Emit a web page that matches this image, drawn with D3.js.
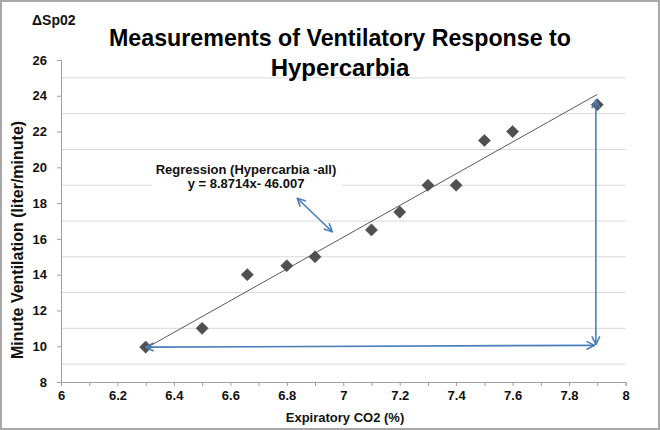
<!DOCTYPE html>
<html><head><meta charset="utf-8">
<script src="https://cdn.jsdelivr.net/npm/d3@7"></script>
<style>
html,body{margin:0;padding:0;background:#fff;}
svg{display:block;font-family:"Liberation Sans",Arial,sans-serif;}
</style></head>
<body>
<script>
// ---- data ----
const co2 = [6.3, 6.5, 6.66, 6.8, 6.9, 7.1, 7.2, 7.3, 7.4, 7.5, 7.6, 7.9];
const ventilation = [9.95, 11.0, 14.0, 14.5, 15.0, 16.5, 17.5, 19.0, 19.0, 21.5, 22.0, 23.5];
const xTicks = [6, 6.2, 6.4, 6.6, 6.8, 7, 7.2, 7.4, 7.6, 7.8, 8];
const yTicks = [8, 10, 12, 14, 16, 18, 20, 22, 24, 26];
const yGrid = [9, 11, 13, 15, 17, 19, 21, 23, 25];
const regSlope = 8.8714, regIntercept = -46.007;
const regRange = [6.3, 7.9];
const titleLines = ["Measurements of Ventilatory Response to", "Hypercarbia"];
const regLabel = ["Regression (Hypercarbia -all)", "y = 8.8714x- 46.007"];
// annotation arrows (data coords)
const arrowH = [[6.3, 9.95], [7.89, 10.05]];
const arrowV = [[7.895, 10.1], [7.895, 23.75]];
const arrowSmall = [[6.837, 18.27], [6.961, 16.40]];

const W = 660, H = 430;
const svg = d3.select("body").append("svg").attr("width", W).attr("height", H);
svg.append("rect").attr("x",1).attr("y",1).attr("width",W-2).attr("height",H-2)
  .attr("fill","#fff").attr("stroke","#a8a8a8").attr("stroke-width",2);

const x = d3.scaleLinear().domain([6, 8]).range([61, 625.5]);
const y = d3.scaleLinear().domain([8, 26]).range([382, 60]);

const defs = svg.append("defs");
defs.append("marker").attr("id","arr").attr("viewBox","0 0 10 10")
  .attr("refX",9).attr("refY",5).attr("markerWidth",10).attr("markerHeight",10)
  .attr("markerUnits","userSpaceOnUse").attr("orient","auto-start-reverse")
  .append("path").attr("d","M1,1 L9,5 L1,9").attr("fill","none")
  .attr("stroke","#4a7ebb").attr("stroke-width",1.6);

// gridlines
svg.append("g").selectAll("line").data(yGrid).join("line")
  .attr("x1", x(6)).attr("x2", x(8)).attr("y1", d=>y(d)).attr("y2", d=>y(d))
  .attr("stroke","#d9d9d9").attr("stroke-width",1);

// axes
const gx = svg.append("g").attr("transform",`translate(0,${y(8)})`)
  .call(d3.axisBottom(x).tickValues(d3.range(60,81).map(v=>v/10)).tickSize(4).tickFormat(""));
const gx2 = svg.append("g").attr("transform",`translate(0,${y(8)})`)
  .call(d3.axisBottom(x).tickValues(xTicks).tickSize(0).tickPadding(9).tickFormat(d3.format("")));
gx2.select(".domain").remove();
const gy = svg.append("g").attr("transform",`translate(${x(6)},0)`)
  .call(d3.axisLeft(y).tickValues(yTicks).tickSize(4).tickPadding(10));
[gx, gy].forEach(g=>{
  g.select(".domain").attr("stroke","#a0a0a0");
  g.selectAll(".tick line").attr("stroke","#a0a0a0");
});
[gx2, gy].forEach(g=>{
  g.selectAll(".tick text").attr("font-family","Liberation Sans, Arial, sans-serif")
    .attr("font-size",13).attr("font-weight","bold").attr("fill","#111");
});

// regression line
svg.append("line")
  .attr("x1", x(regRange[0])).attr("y1", y(regSlope*regRange[0]+regIntercept))
  .attr("x2", x(regRange[1])).attr("y2", y(regSlope*regRange[1]+regIntercept))
  .attr("stroke","#5a5a5a").attr("stroke-width",1);

// label box + text
svg.append("rect").attr("x",152).attr("y",159).attr("width",190).attr("height",33).attr("fill","#fff");
svg.append("g").selectAll("text").data(regLabel).join("text")
  .attr("x", 246).attr("y",(d,i)=>174+i*14).attr("text-anchor","middle")
  .attr("font-size",13).attr("font-weight","bold").attr("fill","#111").text(d=>d);

// points
svg.append("g").selectAll("path").data(co2).join("path")
  .attr("d", d3.symbol().type(d3.symbolSquare).size(74))
  .attr("transform",(d,i)=>`translate(${x(d)},${y(ventilation[i])}) rotate(45)`)
  .attr("fill","#505050").attr("stroke","#444").attr("stroke-width",0.5);

// arrows
[arrowH, arrowV, arrowSmall].forEach(a=>{
  svg.append("line")
    .attr("x1",x(a[0][0])).attr("y1",y(a[0][1])).attr("x2",x(a[1][0])).attr("y2",y(a[1][1]))
    .attr("stroke","#4a7ebb").attr("stroke-width",1.6)
    .attr("marker-start","url(#arr)").attr("marker-end","url(#arr)");
});

// titles
svg.append("g").selectAll("text").data(titleLines).join("text")
  .attr("x",340).attr("y",(d,i)=>46+i*30).attr("text-anchor","middle")
  .attr("font-size",24).attr("font-weight","bold").attr("fill","#000")
  .attr("textLength",(d,i)=>i===0?462:null).attr("lengthAdjust","spacingAndGlyphs")
  .text(d=>d);
svg.append("text").attr("x",32).attr("y",25).attr("font-size",14).attr("font-weight","bold")
  .attr("fill","#111").text("ΔSp02");
svg.append("text").attr("transform","translate(23,240) rotate(-90)").attr("text-anchor","middle")
  .attr("font-size",16).attr("font-weight","bold").attr("fill","#111")
  .text("Minute Ventilation (liter/minute)");
svg.append("text").attr("x",345).attr("y",422).attr("text-anchor","middle")
  .attr("font-size",13).attr("font-weight","bold").attr("fill","#111")
  .text("Expiratory CO2 (%)");
</script>
</body></html>
